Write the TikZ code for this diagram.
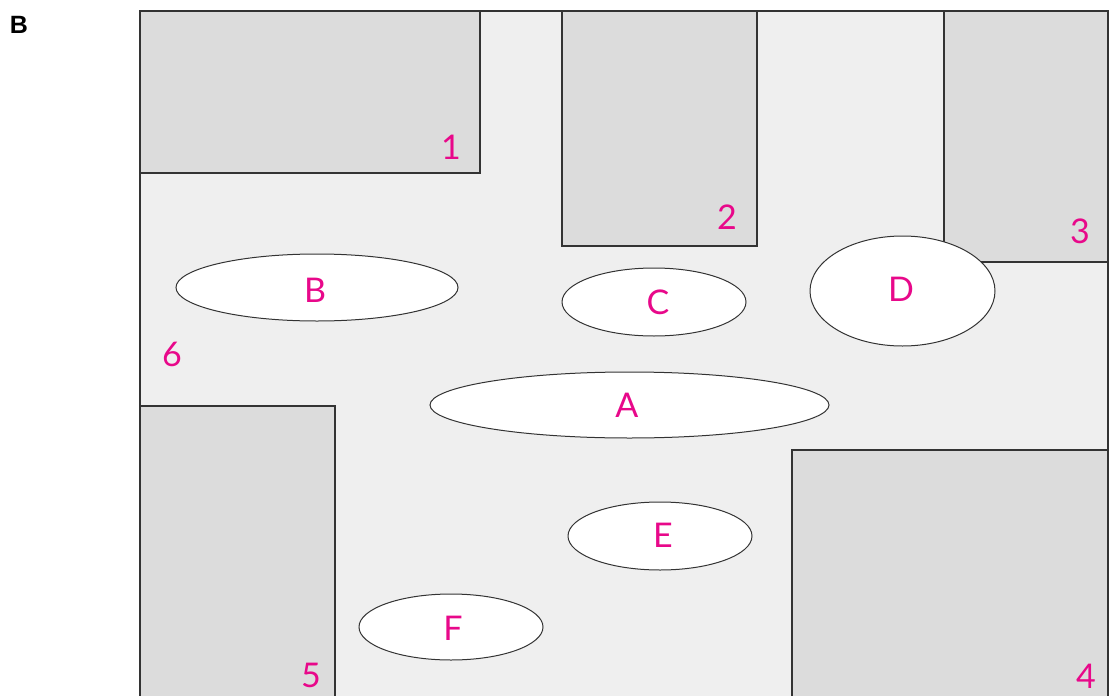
\documentclass[tikz,border=0pt]{standalone}
\usepackage{fontspec}
\setmainfont{Lato}
\newfontfamily\boldsans{Liberation Sans}
\usetikzlibrary{shapes.geometric}
\definecolor{mag}{HTML}{E8088A}
\definecolor{edge}{HTML}{333333}
\definecolor{outerfill}{HTML}{EFEFEF}
\definecolor{blockfill}{HTML}{DCDCDC}
\tikzset{
  block/.style={draw=edge, fill=blockfill, line width=1.1pt},
  area/.style={draw=edge, fill=white, line width=1pt},
  lbl/.style={text=mag, font=\fontsize{34}{34}\selectfont, inner sep=0pt, anchor=center},
}
\begin{document}
\begin{tikzpicture}[x=1pt,y=-1pt]
\useasboundingbox (0,0) rectangle (1111,696);
\fill[white] (0,0) rectangle (1111,696);
% outer site
\fill[outerfill] (140,11) rectangle (1108,696);
\draw[edge, line width=1.1pt] (140,700) -- (140,11) -- (1108,11) -- (1108,700);
% buildings
\draw[block] (140,11) rectangle (480,173);
\draw[block] (562,11) rectangle (757,246);
\draw[block] (944,11) rectangle (1108,262);
\draw[block] (792,450) rectangle (1108,700);
\draw[block] (140,406) rectangle (335,700);
% areas
\node[area, ellipse, minimum width=282, minimum height=67, inner sep=0pt] (B) at (317,287.5) {};
\node[area, ellipse, minimum width=184, minimum height=68, inner sep=0pt] (C) at (654,302) {};
\node[area, ellipse, minimum width=185, minimum height=110, inner sep=0pt] (D) at (902.5,291) {};
\node[area, ellipse, minimum width=399, minimum height=66, inner sep=0pt] (A) at (629.5,405) {};
\node[area, ellipse, minimum width=184, minimum height=68, inner sep=0pt] (E) at (660,536) {};
\node[area, ellipse, minimum width=184, minimum height=66, inner sep=0pt] (F) at (451,627) {};
% labels
\node[lbl] (lA) at (627,405) {A};
\node[lbl] (lB) at (315,290) {B};
\node[lbl] (lC) at (658,302) {C};
\node[lbl] (lD) at (901,289) {D};
\node[lbl] (lE) at (663,535) {E};
\node[lbl] (lF) at (453,628) {F};
\node[lbl] (n1) at (451,147) {1};
\node[lbl] (n2) at (727,217) {2};
\node[lbl] (n3) at (1080,231) {3};
\node[lbl] (n4) at (1086,676) {4};
\node[lbl] (n5) at (311,675) {5};
\node[lbl] (n6) at (172,354) {6};
\node[font=\boldsans\bfseries\fontsize{25}{25}\selectfont, inner sep=0pt] (title) at (19,25) {B};
\end{tikzpicture}
\end{document}
